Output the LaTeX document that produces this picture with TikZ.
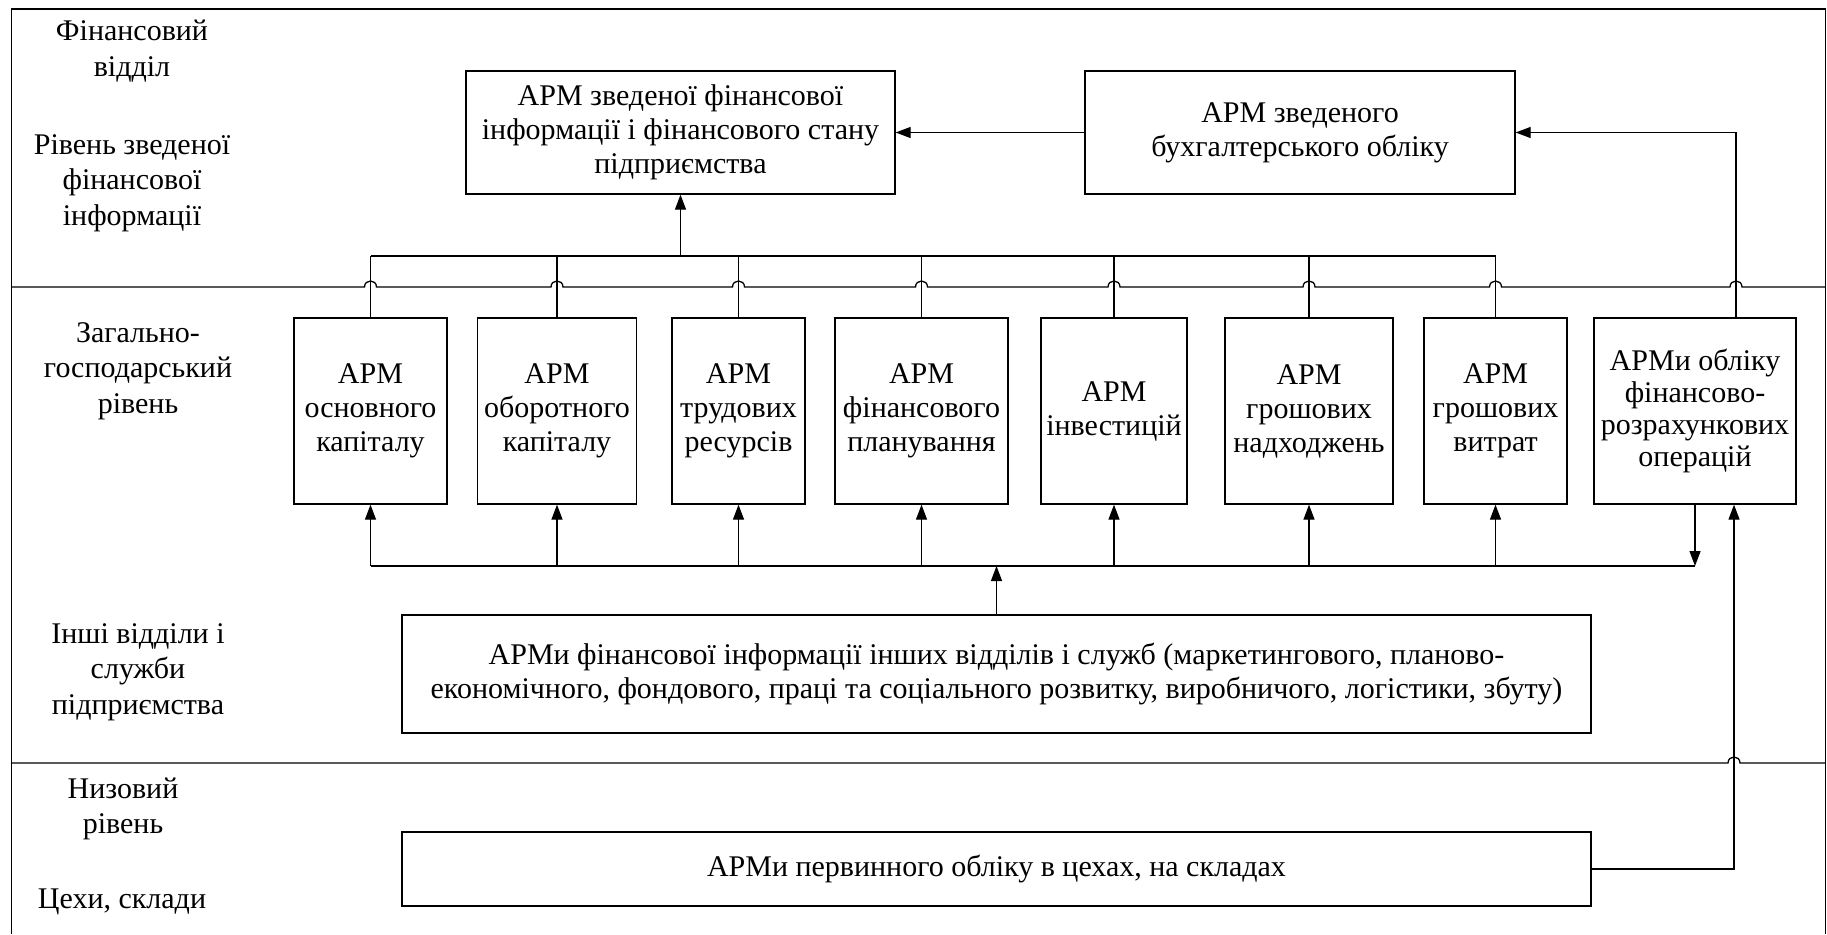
\documentclass[tikz,border=0pt]{standalone}
\usepackage{fontspec}
\setmainfont{Liberation Serif}
\usetikzlibrary{arrows.meta,calc}
\begin{document}
\begin{tikzpicture}[x=1pt,y=-1pt,
  line width=1.3pt,
  box/.style={draw, line width=1.3pt, align=center, inner sep=0pt, font=\fontsize{30}{34}\selectfont},
  lbl/.style={align=center, inner sep=0pt, font=\fontsize{30}{35.5}\selectfont},
  arr/.style={-{Triangle[length=15pt,width=11pt]}}]
\useasboundingbox (0,0) rectangle (1827,934);
\fill[white] (0,0) rectangle (1827,934);
% frame
\draw (11.7,934) -- (11.7,9) -- (1825.5,9) -- (1825.5,934);
\draw (11.7,287) foreach \h in {370.5,557,738.5,921.5,1114,1309,1495.5,1736} { -- (\h-6,287) .. controls (\h-6,279) and (\h+6,279) .. (\h+6,287) } -- (1825.5,287);
\draw (11.7,763) -- (1734-6,763) .. controls (1734-6,755) and (1734+6,755) .. (1734+6,763) -- (1825.5,763);
% left labels
\node[lbl] (l1) at (132,51) {Фінансовий\\відділ};
\node[lbl] (l2) at (132,183) {Рівень зведеної\\фінансової\\інформації};
\node[lbl] (l3) at (138,371) {Загально-\\господарський\\рівень};
\node[lbl] (l4) at (138,672) {Інші відділи і\\служби\\підприємства};
\node[lbl] (l5) at (123,809) {Низовий\\рівень};
\node[lbl] (l6) at (122,902) {Цехи, склади};
% top boxes
\node[box, minimum width=429pt, minimum height=123pt] (tb1) at (680.5,132.5) {АРМ зведеної фінансової\\інформації і фінансового стану\\підприємства};
\node[box, minimum width=430pt, minimum height=123pt] (tb2) at (1300,132.5) {АРМ зведеного\\бухгалтерського обліку};
% middle boxes
\node[box, minimum width=153pt, minimum height=186pt] (b1) at (370.5,411) {АРМ\\основного\\капіталу};
\node[box, minimum width=158.5pt, minimum height=186pt] (b2) at (557,411) {АРМ\\оборотного\\капіталу};
\node[box, minimum width=133pt, minimum height=186pt] (b3) at (738.5,411) {АРМ\\трудових\\ресурсів};
\node[box, minimum width=173pt, minimum height=186pt] (b4) at (921.5,411) {АРМ\\фінансового\\планування};
\node[box, minimum width=146pt, minimum height=186pt] (b5) at (1114,411) {АРМ\\інвестицій};
\node[box, minimum width=168pt, minimum height=186pt] (b6) at (1309,411) {АРМ\\грошових\\надходжень};
\node[box, minimum width=143pt, minimum height=186pt] (b7) at (1495.5,411) {АРМ\\грошових\\витрат};
\node[box, minimum width=202pt, minimum height=186pt, font=\fontsize{30}{32}\selectfont] (b8) at (1695,411) {АРМи обліку\\фінансово-\\розрахункових\\операцій};
% lower boxes
\node[box, minimum width=1189pt, minimum height=118pt] (wb) at (996.5,674) {АРМи фінансової інформації інших відділів і служб (маркетингового, планово-\\економічного, фондового, праці та соціального розвитку, виробничого, логістики, збуту)};
\node[box, minimum width=1189pt, minimum height=74pt] (bb) at (996.5,869) {АРМи первинного обліку в цехах, на складах};
% buses
\coordinate (ubus) at (0,256);
\coordinate (lbus) at (0,566);
\coordinate (b8up) at ($(b8.north)+(41,0)$);
\coordinate (b8in) at ($(b8.south)+(39,0)$);
\draw (b1.north |- ubus) -- (b7.north |- ubus);
\foreach \b in {b1,b2,b3,b4,b5,b6,b7} {
  \draw (\b.north) -- (\b.north |- ubus);
  \draw[arr] (\b.south |- lbus) -- (\b.south);
}
\draw[arr] (tb1.south |- ubus) -- (tb1.south);
\draw[arr] (tb2.west) -- (tb1.east);
\draw[arr] (b8up) |- (tb2.east);
\draw (b1.south |- lbus) -- (b8.south |- lbus);
\draw[arr] (b8.south) -- (b8.south |- lbus);
\draw[arr] (wb.north) -- (wb.north |- lbus);
\draw[arr] (bb.east) -| (b8in);
\end{tikzpicture}
\end{document}
